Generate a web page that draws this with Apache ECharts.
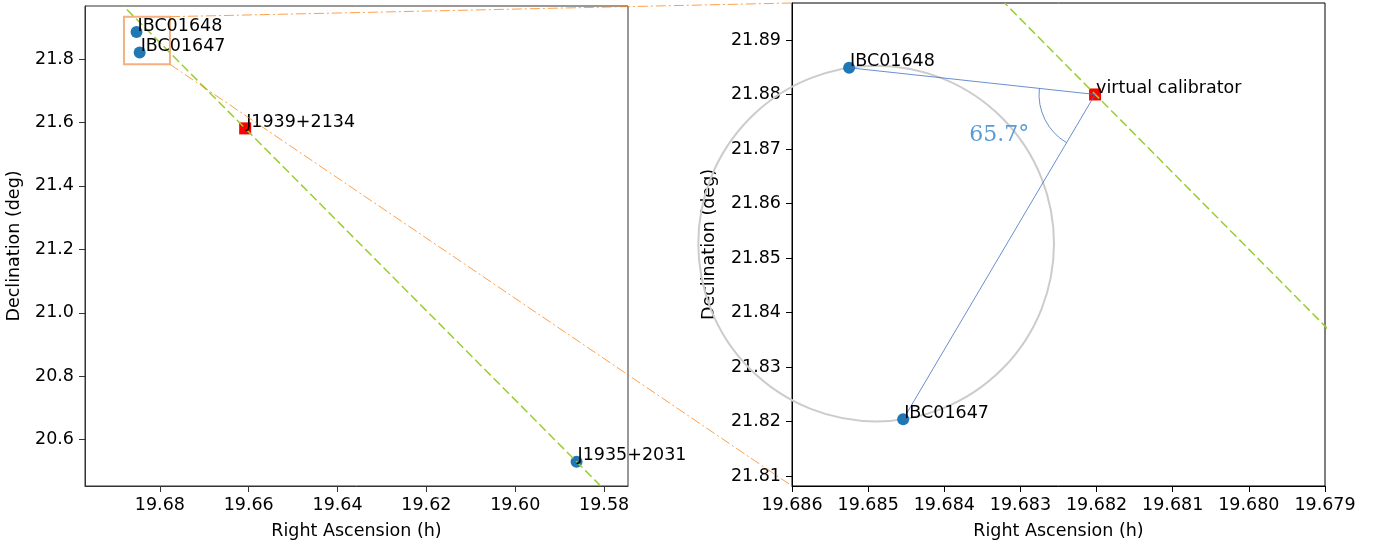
<!DOCTYPE html>
<html><head><meta charset="utf-8">
<script src="https://cdn.jsdelivr.net/npm/echarts@6/dist/echarts.min.js"></script>
<style>html,body{margin:0;padding:0;background:#fff}#c{width:1384px;height:545px}</style>
</head><body><div id="c"></div>
<script>
// ---- data ----
const targetNames = ['IBC01648', 'IBC01647'];
const targetRA = [19.68525, 19.68454];
const targetDec = [21.8849, 21.8204];
const calNames = ['J1939+2134', 'J1935+2031'];
const calRA = [19.6608, 19.5862];
const calDec = [21.5812, 20.5306];
const vcName = 'virtual calibrator';
const vcRA = 19.68202;
const vcDec = 21.8800;
const angleLabel = '65.7°';
const leftXTicks = [19.58, 19.60, 19.62, 19.64, 19.66, 19.68];
const leftYTicks = [20.6, 20.8, 21.0, 21.2, 21.4, 21.6, 21.8];
const rightXTicks = [19.679, 19.680, 19.681, 19.682, 19.683, 19.684, 19.685, 19.686];
const rightYTicks = [21.81, 21.82, 21.83, 21.84, 21.85, 21.86, 21.87, 21.88, 21.89];
const leftXRange = [19.57462, 19.69685];
const leftYRange = [20.454, 21.967];
const rightXRange = [19.679, 19.686];
const rightYRange = [21.80817, 21.89678];
const insetRA = [19.67773, 19.68808];
const insetDec = [21.7832, 21.9333];

// ---- styles ----
const FF = 'DejaVu Sans';
const FS = 17.5;
const BLUE = '#1f77b4';
const RED = '#ff0000';
const GREEN = '#9acd32';
const ORANGE = 'rgba(255,127,14,0.75)';
const LINEBLUE = '#4472c4';

const slope = (calDec[0] - calDec[1]) / (calRA[0] - calRA[1]);
function raAtDec(d) { return calRA[1] + (d - calDec[1]) / slope; }
const leftGreen = [[raAtDec(leftYRange[0]), leftYRange[0]], [raAtDec(leftYRange[1]), leftYRange[1]]];
const rightGreen = [[raAtDec(rightYRange[0]), rightYRange[0]], [raAtDec(rightYRange[1]), rightYRange[1]]];

function xAxis(grid, range, ticks, dec, color) {
  return {
    gridIndex: grid, type: 'value', min: range[0], max: range[1], inverse: true,
    axisLine: { show: true, onZero: false, lineStyle: { color: color, width: 1 } },
    splitLine: { show: false },
    axisTick: { show: true, length: 6, customValues: ticks, lineStyle: { color: color, width: 1 } },
    axisLabel: { customValues: ticks, formatter: v => v.toFixed(dec), margin: 10, fontFamily: FF, fontSize: FS, color: '#000' },
    name: 'Right Ascension (h)', nameLocation: 'middle', nameGap: 36,
    nameTextStyle: { fontFamily: FF, fontSize: FS, color: '#000' }
  };
}
function yAxis(grid, range, ticks, dec, color, gap) {
  return {
    gridIndex: grid, type: 'value', min: range[0], max: range[1],
    axisLine: { show: true, onZero: false, lineStyle: { color: color, width: 1 } },
    splitLine: { show: false },
    axisTick: { show: true, length: 6, customValues: ticks, lineStyle: { color: color, width: 1 } },
    axisLabel: { customValues: ticks, formatter: v => v.toFixed(dec), margin: 11, fontFamily: FF, fontSize: FS, color: '#000' },
    name: 'Declination (deg)', nameLocation: 'middle', nameGap: gap,
    nameTextStyle: { fontFamily: FF, fontSize: FS, color: '#000' }
  };
}

function labelSeries(xi, names, ras, decs) {
  return {
    type: 'custom', xAxisIndex: xi, yAxisIndex: xi, z: 10, silent: true,
    data: ras.map((r, i) => [r, decs[i]]),
    renderItem: function (params, api) {
      const p = api.coord([api.value(0), api.value(1)]);
      return {
        type: 'text',
        style: { text: names[params.dataIndex], x: p[0] + 1, y: p[1] - 6, fill: '#000',
          font: FS + 'px "' + FF + '"', align: 'left', verticalAlign: 'middle' }
      };
    }
  };
}

const option = {
  animation: false,
  backgroundColor: '#fff',
  grid: [
    { left: 85, top: 6, width: 543, height: 480, show: true, borderColor: '#333', borderWidth: 1, backgroundColor: 'transparent' },
    { left: 792, top: 3, width: 533, height: 483.7, show: true, borderColor: '#000', borderWidth: 1, backgroundColor: 'transparent' }
  ],
  xAxis: [xAxis(0, leftXRange, leftXTicks, 2, '#333'), xAxis(1, rightXRange, rightXTicks, 3, '#000')],
  yAxis: [yAxis(0, leftYRange, leftYTicks, 1, '#333', 62), yAxis(1, rightYRange, rightYTicks, 2, '#000', 74)],
  series: [
    // left panel: inset box
    {
      type: 'custom', xAxisIndex: 0, yAxisIndex: 0, z: 1, silent: true,
      data: [[insetRA[0], insetDec[0], insetRA[1], insetDec[1]]],
      renderItem: function (params, api) {
        const a = api.coord([api.value(0), api.value(1)]);
        const b = api.coord([api.value(2), api.value(3)]);
        return { type: 'rect', shape: { x: Math.min(a[0], b[0]), y: Math.min(a[1], b[1]), width: Math.abs(a[0] - b[0]), height: Math.abs(a[1] - b[1]) },
          style: { fill: 'none', stroke: 'rgba(240,150,90,0.75)', lineWidth: 2 } };
      }
    },
    { type: 'scatter', xAxisIndex: 0, yAxisIndex: 0, z: 3, symbol: 'circle', symbolSize: 12, itemStyle: { color: BLUE, opacity: 1 },
      data: [[targetRA[0], targetDec[0]], [targetRA[1], targetDec[1]], [calRA[1], calDec[1]]] },
    { type: 'scatter', xAxisIndex: 0, yAxisIndex: 0, z: 3, symbol: 'rect', symbolSize: 12, itemStyle: { color: RED, opacity: 1 },
      data: [[calRA[0], calDec[0]]] },
    { type: 'line', xAxisIndex: 0, yAxisIndex: 0, z: 4, symbol: 'none', data: leftGreen,
      lineStyle: { color: GREEN, width: 1.5, type: [9, 4] } },
    labelSeries(0, targetNames.concat(calNames), targetRA.concat(calRA), targetDec.concat(calDec)),

    // right panel: circle with the two targets as diameter
    {
      type: 'custom', xAxisIndex: 1, yAxisIndex: 1, z: 1, silent: true, clip: false,
      data: [[targetRA[0], targetDec[0], targetRA[1], targetDec[1]]],
      renderItem: function (params, api) {
        const a = api.coord([api.value(0), api.value(1)]);
        const b = api.coord([api.value(2), api.value(3)]);
        const r = Math.hypot(a[0] - b[0], a[1] - b[1]) / 2;
        return { type: 'circle', shape: { cx: (a[0] + b[0]) / 2, cy: (a[1] + b[1]) / 2, r: r },
          style: { fill: 'none', stroke: '#cccccc', lineWidth: 2 } };
      }
    },
    { type: 'scatter', xAxisIndex: 1, yAxisIndex: 1, z: 3, symbol: 'circle', symbolSize: 12, itemStyle: { color: BLUE, opacity: 1 },
      data: [[targetRA[0], targetDec[0]], [targetRA[1], targetDec[1]]] },
    { type: 'scatter', xAxisIndex: 1, yAxisIndex: 1, z: 3, symbol: 'rect', symbolSize: 12, itemStyle: { color: RED, opacity: 1 },
      data: [[vcRA, vcDec]] },
    { type: 'line', xAxisIndex: 1, yAxisIndex: 1, z: 4, symbol: 'none', data: rightGreen,
      lineStyle: { color: GREEN, width: 1.5, type: [9, 4] } },
    { type: 'line', xAxisIndex: 1, yAxisIndex: 1, z: 4, symbol: 'none',
      data: [[targetRA[0], targetDec[0]], [vcRA, vcDec], [targetRA[1], targetDec[1]]],
      lineStyle: { color: LINEBLUE, width: 0.8 } },
    // angle arc + label
    {
      type: 'custom', xAxisIndex: 1, yAxisIndex: 1, z: 5, silent: true, clip: false,
      data: [[vcRA, vcDec, targetRA[0], targetDec[0], targetRA[1], targetDec[1]]],
      renderItem: function (params, api) {
        const v = api.coord([api.value(0), api.value(1)]);
        const a = api.coord([api.value(2), api.value(3)]);
        const b = api.coord([api.value(4), api.value(5)]);
        let t1 = Math.atan2(a[1] - v[1], a[0] - v[0]);
        let t2 = Math.atan2(b[1] - v[1], b[0] - v[0]);
        let s = Math.min(t1, t2), e = Math.max(t1, t2);
        if (e - s > Math.PI) { const tmp = s; s = e; e = tmp + 2 * Math.PI; }
        const mid = (s + e) / 2 + 0.065;
        return { type: 'group', children: [
          { type: 'arc', shape: { cx: v[0], cy: v[1], r: 56, startAngle: s, endAngle: e, clockwise: true },
            style: { fill: 'none', stroke: LINEBLUE, lineWidth: 0.8 } },
          { type: 'text', style: { text: angleLabel, x: v[0] + 104 * Math.cos(mid), y: v[1] + 104 * Math.sin(mid),
            fill: '#5b9bd5', font: '22px "DejaVu Serif"', align: 'center', verticalAlign: 'middle' } }
        ] };
      }
    },
    labelSeries(1, targetNames.concat([vcName]), targetRA.concat([vcRA]), targetDec.concat([vcDec]))
  ]
};

const chart = echarts.init(document.getElementById('c'), null, { renderer: 'canvas' });
chart.setOption(option);

// connector lines from the inset box to the zoomed panel
const pTR = chart.convertToPixel({ xAxisIndex: 0, yAxisIndex: 0 }, [insetRA[0], insetDec[1]]);
const pBR = chart.convertToPixel({ xAxisIndex: 0, yAxisIndex: 0 }, [insetRA[0], insetDec[0]]);
const qTL = chart.convertToPixel({ xAxisIndex: 1, yAxisIndex: 1 }, [rightXRange[1], rightYRange[1]]);
const qBL = chart.convertToPixel({ xAxisIndex: 1, yAxisIndex: 1 }, [rightXRange[1], rightYRange[0]]);
const connStyle = { stroke: ORANGE, lineWidth: 1, lineDash: [10, 3, 2, 3] };
chart.setOption({
  graphic: [
    { type: 'line', z: 100, silent: true, shape: { x1: pTR[0], y1: pTR[1], x2: qTL[0], y2: qTL[1] }, style: connStyle },
    { type: 'line', z: 100, silent: true, shape: { x1: pBR[0], y1: pBR[1], x2: qBL[0], y2: qBL[1] }, style: connStyle }
  ]
});
</script>
</body></html>
